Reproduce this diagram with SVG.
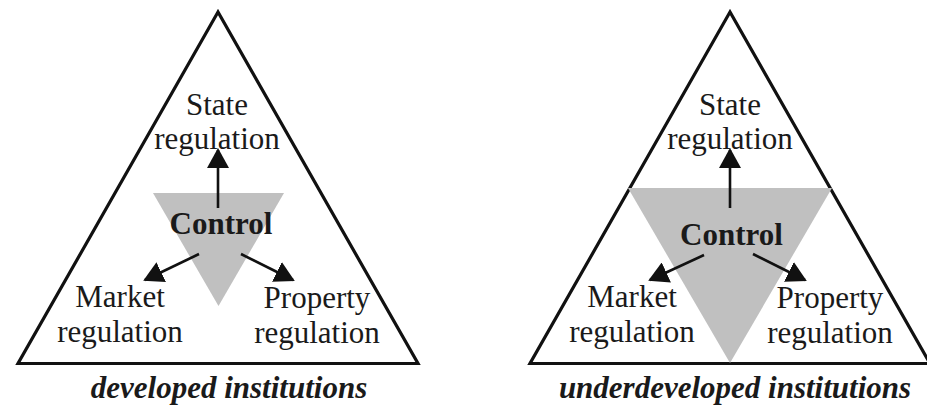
<svg xmlns="http://www.w3.org/2000/svg" width="927" height="407" viewBox="0 0 927 407">
<style>
.outer{fill:#fff;stroke:#111;stroke-width:3.2;stroke-linejoin:miter}
.core{fill:#c0c0c0;stroke:none}
.lbl{font-family:"Liberation Serif","Times New Roman",serif;font-size:31px;fill:#1a1a1a;text-anchor:middle}
.ctl{font-family:"Liberation Serif","Times New Roman",serif;font-size:31px;font-weight:bold;fill:#1a1a1a;text-anchor:middle}
.cap{font-family:"Liberation Serif","Times New Roman",serif;font-size:31px;font-weight:bold;font-style:italic;fill:#1a1a1a;text-anchor:middle}
.arr{stroke:#111;stroke-width:2.6;fill:none;marker-end:url(#ah)}
</style>
<defs>
<marker id="ah" markerUnits="userSpaceOnUse" markerWidth="20" markerHeight="22" viewBox="0 0 20 22" refX="18" refY="11" orient="auto">
<path d="M0,0 L20,11 L0,22 z" fill="#111"/>
</marker>
</defs>
<rect width="927" height="407" fill="#fff"/>

<g id="developed">
<g id="outer-left"><polygon class="outer" points="218,12 18,363.5 418,363.5"/></g>
<g id="control-left"><polygon class="core" points="153,193 284,193 218.5,306"/><text class="ctl" x="221" y="234">Control</text></g>
<g id="state-left"><text class="lbl" x="217" y="115">State</text><text class="lbl" x="217" y="149">regulation</text></g>
<g id="market-left"><text class="lbl" x="120" y="307">Market</text><text class="lbl" x="120" y="342">regulation</text></g>
<g id="property-left"><text class="lbl" x="317" y="308">Property</text><text class="lbl" x="317" y="343">regulation</text></g>
<g id="caption-left"><text class="cap" x="229" y="398">developed institutions</text></g>
</g>

<g id="underdeveloped">
<g id="outer-right"><polygon class="outer" points="730,12 530,363.5 930,363.5"/></g>
<g id="control-right"><polygon class="core" points="628,188 832,188 730,363"/><text class="ctl" x="731.5" y="245">Control</text></g>
<g id="state-right"><text class="lbl" x="730" y="115">State</text><text class="lbl" x="730" y="149">regulation</text></g>
<g id="market-right"><text class="lbl" x="632" y="307">Market</text><text class="lbl" x="632" y="342">regulation</text></g>
<g id="property-right"><text class="lbl" x="830" y="308">Property</text><text class="lbl" x="830" y="343">regulation</text></g>
<g id="caption-right"><text class="cap" x="735" y="398">underdeveloped institutions</text></g>
</g>

<g id="connectors">
<line class="arr" x1="218" y1="208" x2="218" y2="150"/>
<line class="arr" x1="199" y1="254" x2="145" y2="280"/>
<line class="arr" x1="241" y1="254" x2="293" y2="280"/>
<line class="arr" x1="730" y1="208" x2="730" y2="150"/>
<line class="arr" x1="704" y1="255" x2="650" y2="280"/>
<line class="arr" x1="753" y1="254" x2="805" y2="280"/>
</g>
</svg>
